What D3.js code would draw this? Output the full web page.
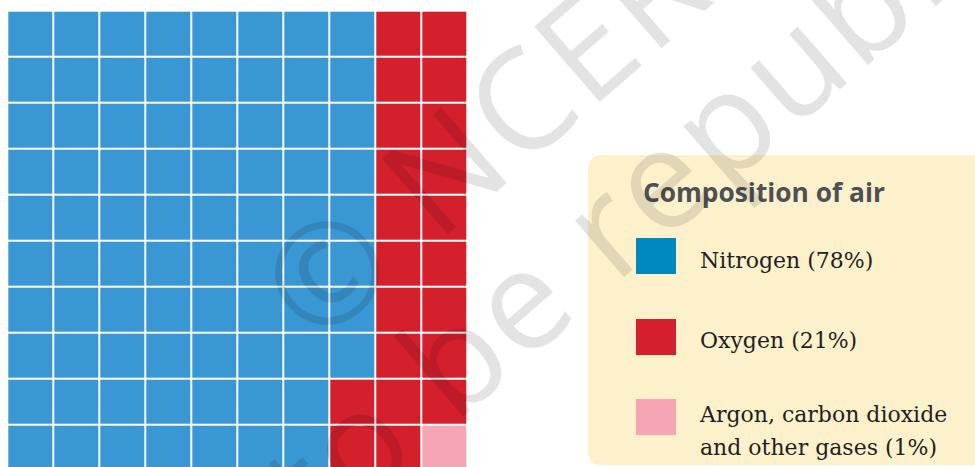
<!DOCTYPE html>
<html>
<head>
<meta charset="utf-8">
<script src="https://cdn.jsdelivr.net/npm/d3@7"></script>
<style>
  body { margin: 0; background: #fff; }
  svg { display: block; }
</style>
</head>
<body>
<script>
// Waffle chart - composition of air
var width = 975;
var height = 467;

// data
var categories = ["Nitrogen", "Oxygen", "Argon, carbon dioxide and other gases"];
var percents = [78, 21, 1];
var legendLines = [["Nitrogen (78%)"], ["Oxygen (21%)"], ["Argon, carbon dioxide", "and other gases (1%)"]];
var cellColors = ["#3997d3", "#d41f2c", "#f5a5b4"];
var swatchColors = ["#0089c0", "#d41f2c", "#f5a5b4"];
var title = "Composition of air";

var svg = d3.select("body")
  .append("svg")
  .attr("width", width)
  .attr("height", height);

// one cell per percent, filled column by column
var cells = [];
categories.forEach(function(c, i) {
  for (var k = 0; k < percents[i]; k++) cells.push({cat: i});
});
cells.forEach(function(d, k) {
  d.col = Math.floor(k / 10);
  d.row = k % 10;
});

var xScale = d3.scaleBand()
  .domain(d3.range(10))
  .range([8.3, 466.3])
  .paddingInner(2 / 46);

var yScale = d3.scaleBand()
  .domain(d3.range(10))
  .range([11.7, 469.7])
  .paddingInner(2 / 46);

svg.append("g")
  .selectAll("rect")
  .data(cells)
  .enter()
  .append("rect")
    .attr("x", function(d) { return xScale(d.col); })
    .attr("y", function(d) { return yScale(d.row); })
    .attr("width", xScale.bandwidth())
    .attr("height", yScale.bandwidth())
    .attr("fill", function(d) { return cellColors[d.cat]; });

// legend panel
var legend = svg.append("g");

legend.append("rect")
  .attr("x", 588)
  .attr("y", 155)
  .attr("width", 420)
  .attr("height", 310)
  .attr("rx", 13)
  .attr("fill", "#fdf1cc");

legend.append("text")
  .attr("x", 643)
  .attr("y", 201.5)
  .attr("font-family", "'Open Sans', sans-serif")
  .attr("font-weight", 700)
  .attr("font-size", 26.3)
  .attr("fill", "#4d5157")
  .text(title);

var swatchY = [238, 319, 399];
var textY = [268.3, 348.3, 421.7];

var items = legend.selectAll("g.item")
  .data(categories)
  .enter()
  .append("g")
  .attr("class", "item");

items.append("rect")
  .attr("x", 636)
  .attr("y", function(d, i) { return swatchY[i]; })
  .attr("width", 40)
  .attr("height", 36)
  .attr("fill", function(d, i) { return swatchColors[i]; });

items.append("text")
  .attr("x", 700)
  .attr("y", function(d, i) { return textY[i]; })
  .attr("font-family", "'DejaVu Serif', serif")
  .attr("font-size", 22)
  .attr("fill", "#231f20")
  .selectAll("tspan")
  .data(function(d, i) { return legendLines[i]; })
  .enter()
  .append("tspan")
    .attr("x", 700)
    .attr("dy", function(d, j) { return j ? 33.3 : 0; })
    .text(function(d) { return d; });

// faint watermark on top
var wm = svg.append("g")
  .attr("transform", "translate(327,273) rotate(-41)")
  .attr("font-family", "'Open Sans', sans-serif")
  .attr("font-size", 140)
  .attr("letter-spacing", 4)
  .attr("fill", "#000")
  .attr("fill-opacity", 0.11)
  .style("pointer-events", "none");

wm.append("text")
  .attr("x", -58)
  .attr("y", 50)
  .text("\u00a9 NCERT");

wm.append("text")
  .attr("x", -458)
  .attr("y", 198)
  .text("not to be republished");
</script>
</body>
</html>
